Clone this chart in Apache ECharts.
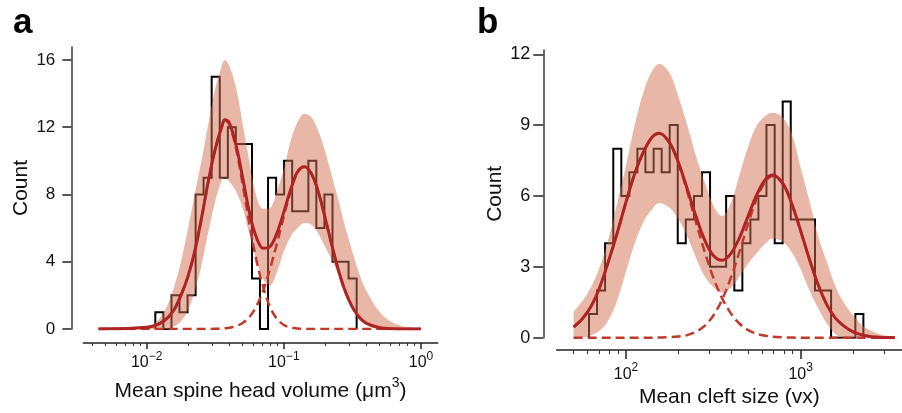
<!DOCTYPE html>
<html><head><meta charset="utf-8">
<script src="https://cdn.jsdelivr.net/npm/echarts@6/dist/echarts.min.js"></script>
<style>html,body{margin:0;padding:0;background:#fff}#c{width:902px;height:413px}</style>
</head><body><div id="c"></div>
<script>
// ---------- Panel a: mean spine head volume (x in log10 units) ----------
const volEdges = [-1.937,-1.878,-1.819,-1.761,-1.702,-1.643,-1.585,-1.526,-1.467,-1.408,-1.350,-1.291,-1.232,-1.174,-1.115,-1.056,-0.998,-0.939,-0.880,-0.821,-0.763,-0.704,-0.645,-0.587,-0.528,-0.469];
const volCounts = [1,0,2,1,2,8,9,15,9,12,11,11,3,0,9,8,10,7,7,10,6,8,4,4,3];
const volX = [-2.35,-2.2,-2.1,-2.0,-1.95,-1.9,-1.85,-1.8,-1.75,-1.7,-1.65,-1.6,-1.55,-1.5,-1.45,-1.43,-1.4,-1.35,-1.3,-1.25,-1.2,-1.15,-1.1,-1.05,-1.0,-0.95,-0.9,-0.85,-0.8,-0.75,-0.7,-0.65,-0.6,-0.55,-0.5,-0.45,-0.4,-0.3,-0.2,-0.1,0.0];
const volFit = [0,0.02,0.05,0.1,0.18,0.35,0.65,1.15,2.0,3.1,4.6,6.6,8.8,10.7,12.1,12.45,12.3,11.0,9.0,6.9,5.45,4.8,4.9,5.7,6.95,8.3,9.35,9.65,9.25,8.2,6.65,5.0,3.45,2.2,1.3,0.7,0.35,0.07,0.01,0,0];
const volSmall = [0,0.02,0.05,0.1,0.18,0.35,0.65,1.15,2.0,3.1,4.6,6.6,8.8,10.7,12.1,12.4,12.2,10.8,8.6,6.2,4.1,2.5,1.3,0.6,0.24,0.09,0.03,0.01,0,0,0,0,0,0,0,0,0,0,0,0,0];
const volLarge = [0,0,0,0,0,0,0,0,0,0,0,0,0,0.01,0.03,0.04,0.07,0.17,0.36,0.71,1.35,2.3,3.6,5.1,6.7,8.2,9.3,9.65,9.25,8.2,6.65,5.0,3.45,2.2,1.3,0.7,0.35,0.07,0.01,0,0];
const volHi = [0,0.02,0.05,0.15,0.3,0.7,1.4,2.5,4.0,5.9,8.0,10.0,12.2,14.3,15.7,16.0,15.7,14.4,12.2,9.9,7.9,7.15,7.2,8.2,9.5,11.2,12.3,12.8,12.6,11.8,10.6,9.1,7.6,6.0,4.6,3.3,2.3,1.0,0.35,0.1,0.02];
const volLo = [0,0,0,0,0,0,0,0.15,0.45,1.1,2.2,3.8,5.8,7.6,8.9,9.0,8.8,8.2,7.2,5.6,4.1,2.95,2.6,3.4,4.6,5.5,6.0,6.3,6.2,5.7,4.9,4.1,3.2,2.3,1.45,0.75,0.25,0,0,0,0];
const volMajor = [-2,-1,0];
const volMajorExp = ['\u22122','\u22121','0'];
const volYTicks = [0,4,8,12,16];

// ---------- Panel b: mean cleft size (x in log10 units) ----------
const cleftEdges = [1.788,1.834,1.880,1.927,1.973,2.019,2.065,2.111,2.158,2.204,2.250,2.296,2.342,2.389,2.435,2.481,2.527,2.573,2.620,2.666,2.712,2.758,2.804,2.851,2.897,2.943,2.989,3.035,3.082,3.128,3.174,3.220,3.266,3.313,3.359];
const cleftCounts = [1,2,4,8,6,7,8,7,8,7,9,4,5,6,7,3,3,6,2,4,5,6,9,4,10,5,5,5,2,2,0,0,0,1];
const cleftX = [1.70,1.75,1.8,1.85,1.9,1.95,2.0,2.05,2.1,2.15,2.19,2.25,2.3,2.35,2.4,2.45,2.5,2.55,2.6,2.65,2.7,2.75,2.8,2.84,2.9,2.95,3.0,3.05,3.1,3.15,3.2,3.25,3.3,3.35,3.4,3.45,3.54];
const cleftFit = [0.45,0.8,1.33,2.15,3.25,4.45,5.75,6.95,7.87,8.5,8.66,8.25,7.42,6.31,5.15,4.14,3.48,3.28,3.56,4.24,5.17,6.08,6.72,6.89,6.5,5.65,4.52,3.32,2.24,1.39,0.82,0.48,0.25,0.12,0.05,0.02,0];
const cleftSmall = [0.45,0.8,1.33,2.15,3.25,4.45,5.75,6.95,7.87,8.5,8.65,8.23,7.37,6.2,4.9,3.64,2.54,1.67,1.03,0.59,0.32,0.16,0.08,0.04,0.015,0.005,0,0,0,0,0,0,0,0,0,0,0];
const cleftLarge = [0,0,0,0,0,0,0,0,0,0,0.005,0.02,0.05,0.11,0.25,0.5,0.94,1.61,2.53,3.65,4.85,5.92,6.64,6.85,6.49,5.64,4.52,3.32,2.24,1.39,0.82,0.48,0.25,0.12,0.05,0.02,0];
const cleftHi = [1.1,1.55,2.15,3.0,4.2,5.7,7.3,9.0,10.4,11.3,11.6,11.2,10.2,9.0,7.7,6.6,5.6,5.15,5.7,6.9,8.1,9.0,9.4,9.52,9.3,8.6,7.2,5.8,4.3,3.2,2.15,1.45,0.95,0.55,0.3,0.15,0.03];
const cleftLo = [0,0,0.1,0.3,0.75,1.6,2.8,4.0,4.9,5.45,5.7,5.5,5.0,4.3,3.4,2.6,2.15,1.9,2.1,2.6,3.15,3.6,4.0,4.2,4.05,3.6,2.9,2.0,1.25,0.6,0.15,0,0,0,0,0,0];
const cleftMajor = [2,3];
const cleftMajorExp = ['2','3'];
const cleftYTicks = [0,3,6,9,12];

const minorMult = [2,3,4,5,6,7,8,9];

// ---------- helpers ----------
const FONT = "'Liberation Sans', Arial, Helvetica, sans-serif";
const INK = '#111';
const BAND = 'rgba(209,111,79,0.5)';
const FIT = '#b02323';
const DASH = '#c0392b';

function steps(edges, counts) {
  const p = [[edges[0], 0]];
  counts.forEach((c, i) => { p.push([edges[i], c], [edges[i + 1], c]); });
  p.push([edges[edges.length - 1], 0]);
  return p;
}
function pairs(xs, ys) { return xs.map((x, i) => [x, ys[i]]); }
// value first so that the stacked dimension is the y value
function pairsYX(xs, ys) { return xs.map((x, i) => [ys[i], x]); }
function minorTicks(decades, min, max) {
  const out = [];
  decades.forEach(d => minorMult.forEach(m => {
    const v = d + Math.log10(m);
    if (v > min + 0.01 && v < max - 0.005) out.push(v);
  }));
  return out;
}

const volMin = -2.462, volMax = 0.122;
const cleftMin = 1.603, cleftMax = 3.58;

function majorAxis(grid, min, max, offset, majors, exps, tickLen, lblSize, supSize, margin, name, nameGap) {
  return {
    type: 'value', gridIndex: grid, min: min, max: max, position: 'bottom', offset: offset,
    axisLine: { show: true, onZero: false, lineStyle: { color: '#222', width: 1.5 } },
    axisTick: { show: true, customValues: majors, length: tickLen, lineStyle: { color: '#222', width: 1.5 } },
    axisLabel: {
      show: true, customValues: majors, margin: margin,
      formatter: v => { const i = majors.findIndex(m => Math.abs(m - v) < 1e-6); return '{b|10}{s|' + exps[i] + '}'; },
      rich: {
        b: { fontSize: lblSize, fontFamily: FONT, color: INK, lineHeight: lblSize + 4, verticalAlign: 'bottom' },
        s: { fontSize: supSize, fontFamily: FONT, color: INK, lineHeight: supSize, verticalAlign: 'top' }
      }
    },
    splitLine: { show: false },
    name: name, nameLocation: 'middle', nameGap: nameGap,
    nameTextStyle: {
      rich: {
        t: { fontSize: 21, fontFamily: FONT, color: INK, lineHeight: 26, verticalAlign: 'bottom' },
        u: { fontSize: 14, fontFamily: FONT, color: INK, lineHeight: 14, verticalAlign: 'top' }
      }
    }
  };
}
function minorAxis(grid, min, max, offset, ticks, len) {
  return {
    type: 'value', gridIndex: grid, min: min, max: max, position: 'bottom', offset: offset,
    axisLine: { show: false, onZero: false },
    axisTick: { show: true, customValues: ticks, length: len, lineStyle: { color: '#333', width: 1 } },
    axisLabel: { show: false }, splitLine: { show: false }
  };
}
function yAxis(grid, max, offset, ticks, tickLen, lblSize, margin, nameGap) {
  return {
    type: 'value', gridIndex: grid, min: 0, max: max, offset: offset, position: 'left',
    axisLine: { show: true, onZero: false, lineStyle: { color: '#444', width: 1.6 } },
    axisTick: { show: true, customValues: ticks, length: tickLen, lineStyle: { color: '#222', width: 1.5 } },
    axisLabel: { show: true, customValues: ticks, margin: margin, fontSize: lblSize, fontFamily: FONT, color: INK },
    splitLine: { show: false },
    name: 'Count', nameLocation: 'middle', nameGap: nameGap,
    nameTextStyle: { fontSize: 21, fontFamily: FONT, color: INK }
  };
}
function panelSeries(xi, yi, edges, counts, xs, lo, hi, fit, c1, c2, tag) {
  const common = { xAxisIndex: xi, yAxisIndex: yi, type: 'line', symbol: 'none', animation: false };
  return [
    Object.assign({}, common, { name: tag + 'hist', data: steps(edges, counts), z: 2,
      lineStyle: { color: '#000', width: 2, join: 'miter' } }),
    Object.assign({}, common, { name: tag + 'lo', data: pairsYX(xs, lo), encode: { x: 1, y: 0 },
      stack: tag + 'band', smooth: 0.35, z: 3, lineStyle: { width: 0, opacity: 0 } }),
    Object.assign({}, common, { name: tag + 'hi', data: pairsYX(xs, hi.map((v, i) => v - lo[i])), encode: { x: 1, y: 0 },
      stack: tag + 'band', smooth: 0.35, z: 3,
      lineStyle: { width: 0, opacity: 0 }, areaStyle: { color: BAND, opacity: 1 } }),
    Object.assign({}, common, { name: tag + 'c1', data: pairs(xs, c1), smooth: 0.35, z: 4,
      lineStyle: { color: DASH, width: 2.5, type: [9, 5] } }),
    Object.assign({}, common, { name: tag + 'c2', data: pairs(xs, c2), smooth: 0.35, z: 4,
      lineStyle: { color: DASH, width: 2.5, type: [9, 5] } }),
    Object.assign({}, common, { name: tag + 'fit', data: pairs(xs, fit), smooth: 0.35, z: 5,
      lineStyle: { color: FIT, width: 3 } })
  ];
}

const chart = echarts.init(document.getElementById('c'), null, { renderer: 'canvas' });
chart.setOption({
  animation: false,
  backgroundColor: '#fff',
  title: [
    { text: 'a', left: 8, top: 1, textStyle: { fontSize: 35, fontWeight: 'bold', fontFamily: FONT, color: '#000' } },
    { text: 'b', left: 472, top: 1, textStyle: { fontSize: 35, fontWeight: 'bold', fontFamily: FONT, color: '#000' } }
  ],
  grid: [
    { left: 83.3, top: 47, width: 354.4, height: 282, containLabel: false },
    { left: 556.7, top: 50, width: 345.3, height: 288.3, containLabel: false }
  ],
  xAxis: [
    majorAxis(0, volMin, volMax, 14, volMajor, volMajorExp, 6, 16, 12, 8,
      '{t|Mean spine head volume (\u03bcm}{u|3}{t|)}', 29),
    minorAxis(0, volMin, volMax, 14, minorTicks([-3, -2, -1, 0], volMin, volMax), 3),
    majorAxis(1, cleftMin, cleftMax, 12.4, cleftMajor, cleftMajorExp, 9, 16, 12, 12,
      '{t|Mean cleft size (vx)}', 30),
    minorAxis(1, cleftMin, cleftMax, 12.4, minorTicks([1, 2, 3], cleftMin, cleftMax), 4)
  ],
  yAxis: [
    yAxis(0, 16.77, 12, volYTicks, 9, 17, 16, 40),
    yAxis(1, 12.18, 13.4, cleftYTicks, 10, 18, 13, 38)
  ],
  series: [].concat(
    panelSeries(0, 0, volEdges, volCounts, volX, volLo, volHi, volFit, volSmall, volLarge, 'a'),
    panelSeries(2, 1, cleftEdges, cleftCounts, cleftX, cleftLo, cleftHi, cleftFit, cleftSmall, cleftLarge, 'b')
  )
});
</script></body></html>
